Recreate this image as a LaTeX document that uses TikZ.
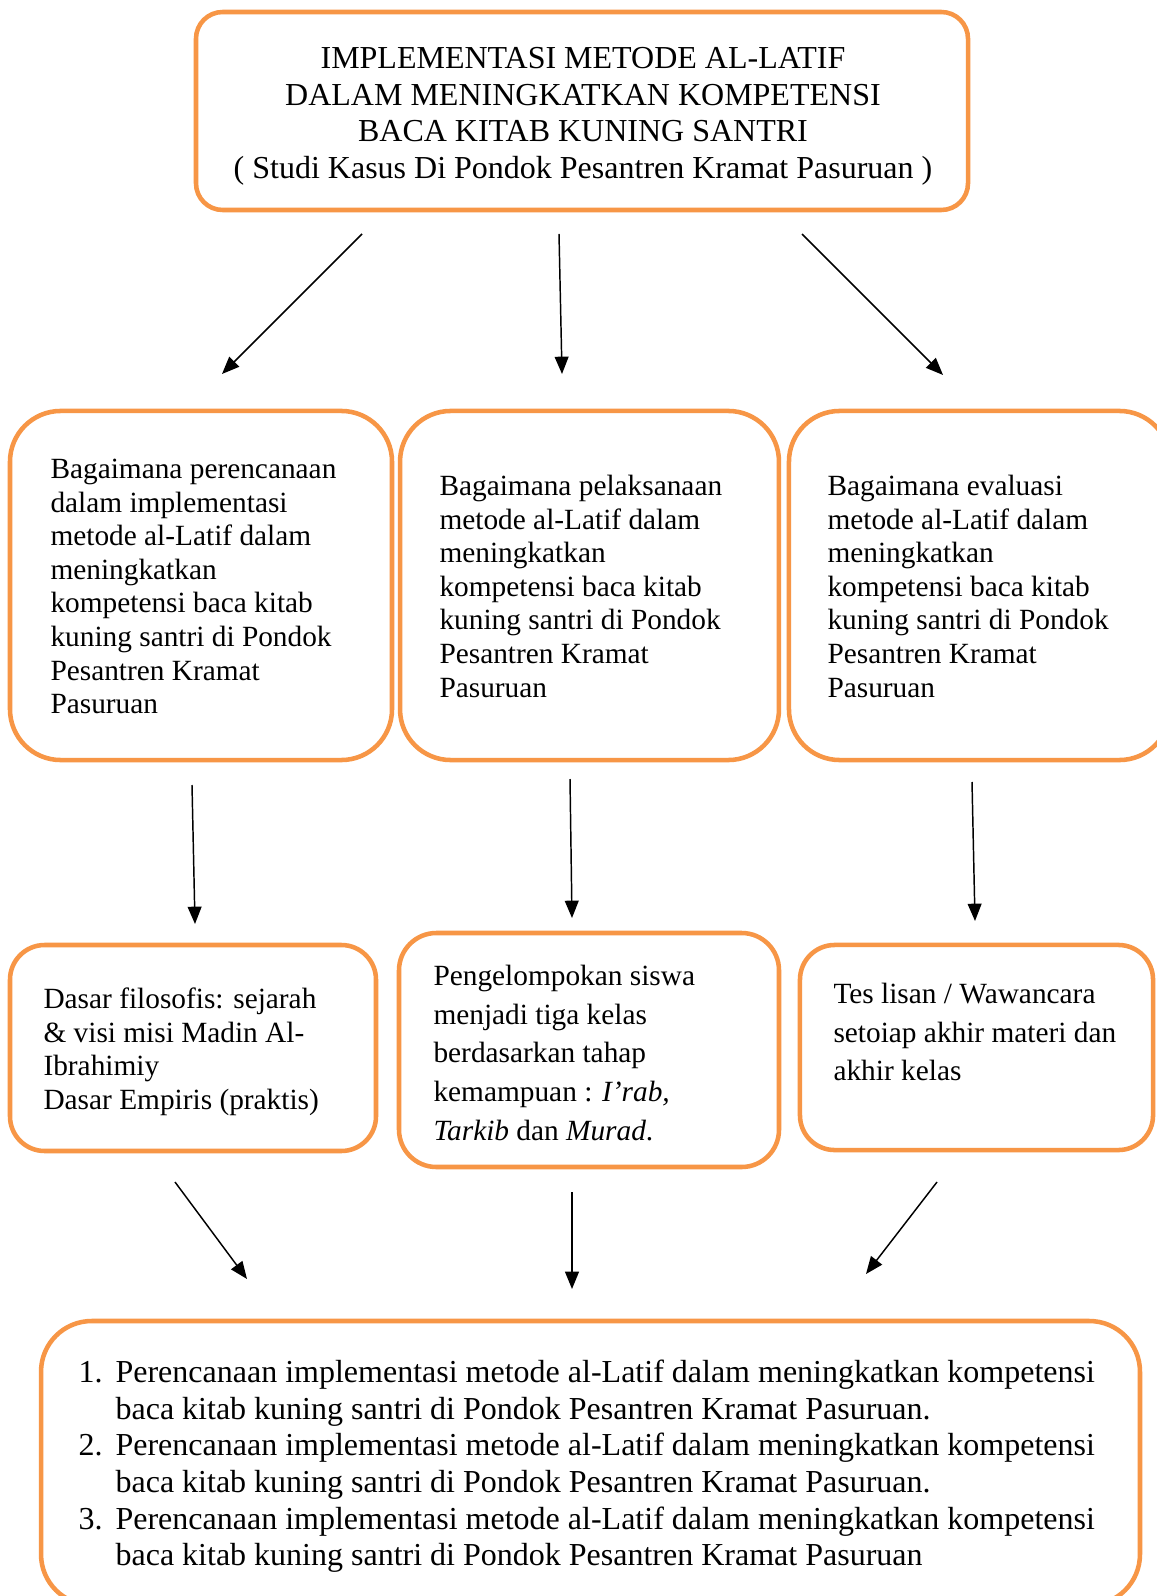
\documentclass[tikz,border=0pt]{standalone}
\usepackage{fontspec}
\setmainfont{Liberation Serif}
\usetikzlibrary{arrows.meta}
\definecolor{boxorange}{HTML}{F79646}
\newcommand\fElev{\fontsize{11pt}{12.6pt}\selectfont}
\newcommand\fElevW{\fontsize{11pt}{14.5pt}\selectfont}
\newcommand\fTwel{\fontsize{12pt}{13.73pt}\selectfont}
\newcommand\numbox[1]{\makebox[13.9pt][l]{#1}}
\begin{document}
\begin{tikzpicture}[x=0.375pt,y=-0.375pt,
  frame/.style={draw=boxorange, line width=1.7pt, rectangle, inner sep=0pt},
  txt/.style={inner sep=0pt, anchor=north west, align=left},
  arr/.style={-{Triangle[length=6.5pt,width=5.2pt]}, line width=0.55pt, black}]
\useasboundingbox (0,0) rectangle (1157,1596);
\clip (0,0) rectangle (1157,1596);
\fill[white] (0,0) rectangle (1157,1596);

% boxes
\node[frame, rounded corners=10pt, minimum width=289.5pt, minimum height=74.25pt] (top) at (582,111) {};
\node[frame, rounded corners=19pt, minimum width=143.25pt, minimum height=130.9pt] (bA) at (201,585.5) {};
\node[frame, rounded corners=19pt, minimum width=142.1pt, minimum height=130.9pt] (bB) at (589.5,585.5) {};
\node[frame, rounded corners=19pt, minimum width=142.9pt, minimum height=130.9pt] (bC) at (979.5,585.5) {};
\node[frame, rounded corners=13pt, minimum width=137.25pt, minimum height=77.25pt] (bD) at (193,1048) {};
\node[frame, rounded corners=14pt, minimum width=142.5pt, minimum height=87.75pt] (bE) at (589,1050) {};
\node[frame, rounded corners=13pt, minimum width=132.4pt, minimum height=76.9pt] (bF) at (976.5,1047.5) {};
\node[frame, rounded corners=19pt, minimum width=412.1pt, minimum height=106.5pt] (bot) at (590.5,1463) {};

% texts
\node[inner sep=0pt, anchor=north, align=center, font=\fTwel] (tTop) at (583,42.4)
 {\strut IMPLEMENTASI METODE AL-LATIF\\DALAM MENINGKATKAN KOMPETENSI\\BACA KITAB KUNING SANTRI\\( Studi Kasus Di Pondok Pesantren Kramat Pasuruan )};

\node[txt, font=\fElev] (tA) at (50,454.5)
 {\strut Bagaimana perencanaan\\dalam implementasi\\metode al-Latif dalam\\meningkatkan\\kompetensi baca kitab\\kuning santri di Pondok\\Pesantren Kramat\\Pasuruan};
\node[txt, font=\fElev] (tB) at (439,471.5)
 {\strut Bagaimana pelaksanaan\\metode al-Latif dalam\\meningkatkan\\kompetensi baca kitab\\kuning santri di Pondok\\Pesantren Kramat\\Pasuruan};
\node[txt, font=\fElev] (tC) at (827,471.5)
 {\strut Bagaimana evaluasi\\metode al-Latif dalam\\meningkatkan\\kompetensi baca kitab\\kuning santri di Pondok\\Pesantren Kramat\\Pasuruan};

\node[txt, font=\fElev] (tD) at (43,984.5)
 {\strut Dasar filosofis: sejarah\\\& visi misi Madin Al-\\Ibrahimiy\\Dasar Empiris (praktis)};
\node[txt, font=\fElevW] (tE) at (433,958)
 {\strut Pengelompokan siswa\\menjadi tiga kelas\\berdasarkan tahap\\kemampuan : \textit{I’rab,}\\\textit{Tarkib} dan \textit{Murad}.};
\node[txt, font=\fElevW] (tF) at (833,976)
 {\strut Tes lisan / Wawancara\\setoiap akhir materi dan\\akhir kelas};

\node[txt, font=\fTwel] (tBot) at (78,1356.4)
 {\strut\numbox{1.}Perencanaan implementasi metode al-Latif dalam meningkatkan kompetensi\\
  \numbox{}baca kitab kuning santri di Pondok Pesantren Kramat Pasuruan.\\
  \numbox{2.}Perencanaan implementasi metode al-Latif dalam meningkatkan kompetensi\\
  \numbox{}baca kitab kuning santri di Pondok Pesantren Kramat Pasuruan.\\
  \numbox{3.}Perencanaan implementasi metode al-Latif dalam meningkatkan kompetensi\\
  \numbox{}baca kitab kuning santri di Pondok Pesantren Kramat Pasuruan};

% arrow end points
\coordinate (s1) at (362,234);  \coordinate (e1) at (222,374);
\coordinate (s2) at (559,234);  \coordinate (e2) at (562,374);
\coordinate (s3) at (802,234);  \coordinate (e3) at (943,375);
\coordinate (s4) at (192,785);  \coordinate (e4) at (195,924);
\coordinate (s5) at (570,779);  \coordinate (e5) at (572,918);
\coordinate (s6) at (972,782);  \coordinate (e6) at (975,921);
\coordinate (s7) at (175,1182); \coordinate (e7) at (247,1279);
\coordinate (s8) at (572,1192); \coordinate (e8) at (572,1289);
\coordinate (s9) at (937,1182); \coordinate (e9) at (866,1274);

\foreach \i in {1,...,9} \draw[arr] (s\i) -- (e\i);
\end{tikzpicture}
\end{document}
